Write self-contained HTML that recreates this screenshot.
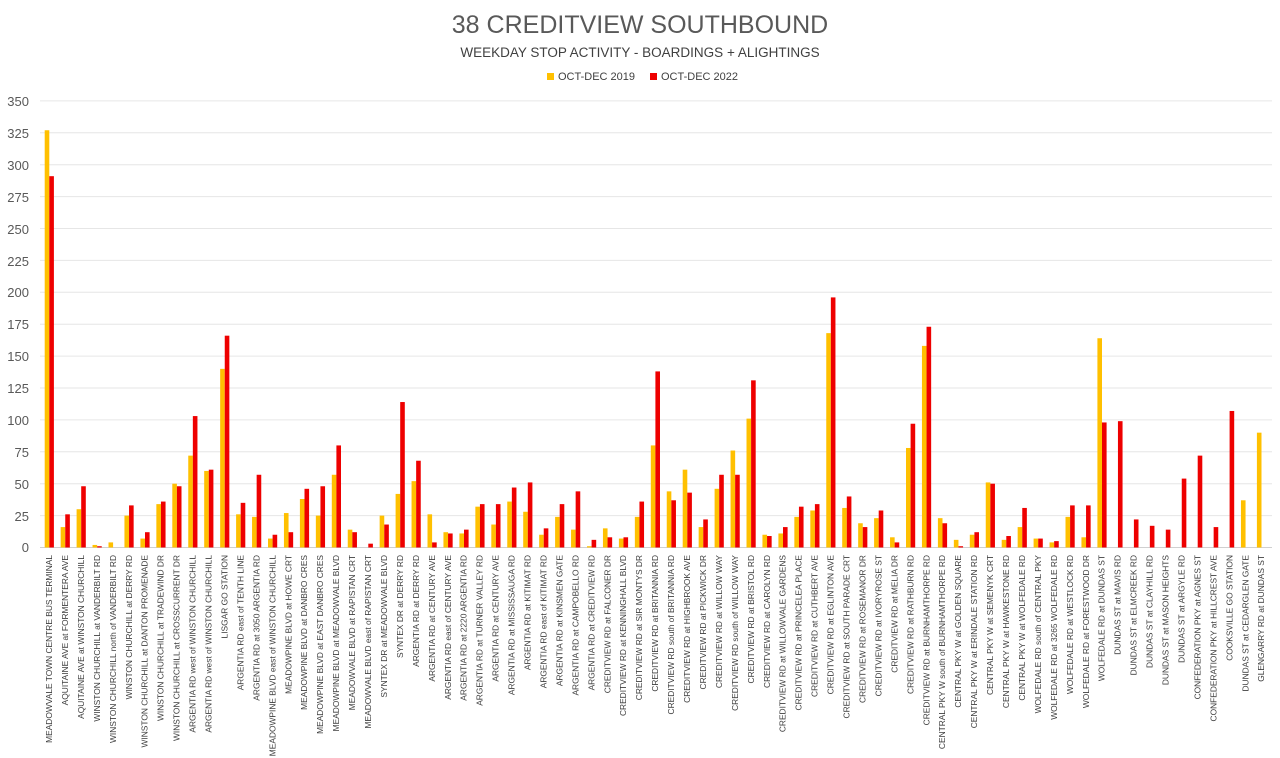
<!DOCTYPE html>
<html><head><meta charset="utf-8"><style>
body{margin:0;background:#fff;}
svg{display:block;font-family:"Liberation Sans",sans-serif;}
.lb text{font-size:8.4px;fill:#404040;}
</style></head><body>
<svg id="s" width="1280" height="758" viewBox="0 0 1280 758">
<rect width="1280" height="758" fill="#fff"/>
<text x="640" y="33" text-anchor="middle" font-size="25" fill="#595959">38 CREDITVIEW SOUTHBOUND</text>
<text x="640" y="57" text-anchor="middle" font-size="13.5" fill="#404040">WEEKDAY STOP ACTIVITY - BOARDINGS + ALIGHTINGS</text>
<rect x="547" y="73" width="7" height="7" fill="#FFC000"/>
<text x="558" y="80" font-size="11" fill="#404040">OCT-DEC 2019</text>
<rect x="650" y="73" width="7" height="7" fill="#EE0000"/>
<text x="661" y="80" font-size="11" fill="#404040">OCT-DEC 2022</text>
<g id="grid"></g>
<g font-size="13" fill="#595959" text-anchor="end">
<text x="29" y="106">350</text><text x="29" y="138">325</text><text x="29" y="170">300</text><text x="29" y="202">275</text><text x="29" y="234">250</text><text x="29" y="266">225</text><text x="29" y="297">200</text><text x="29" y="329">175</text><text x="29" y="361">150</text><text x="29" y="393">125</text><text x="29" y="425">100</text><text x="29" y="457">75</text><text x="29" y="489">50</text><text x="29" y="521">25</text><text x="29" y="552">0</text>
</g>
<g id="bars"></g>
<g class="lb" text-anchor="end">
<text transform="translate(52 555) rotate(-90)">MEADOWVALE TOWN CENTRE BUS TERMINAL</text>
<text transform="translate(67.95 555) rotate(-90)">AQUITAINE AVE at FORMENTERA AVE</text>
<text transform="translate(83.9 555) rotate(-90)">AQUITAINE AVE at WINSTON CHURCHILL</text>
<text transform="translate(99.85 555) rotate(-90)">WINSTON CHURCHILL at VANDERBILT RD</text>
<text transform="translate(115.8 555) rotate(-90)">WINSTON CHURCHILL north of VANDERBILT RD</text>
<text transform="translate(131.75 555) rotate(-90)">WINSTON CHURCHILL at DERRY RD</text>
<text transform="translate(147.7 555) rotate(-90)">WINSTON CHURCHILL at DANTON PROMENADE</text>
<text transform="translate(163.65 555) rotate(-90)">WINSTON CHURCHILL at TRADEWIND DR</text>
<text transform="translate(179.6 555) rotate(-90)">WINSTON CHURCHILL at CROSSCURRENT DR</text>
<text transform="translate(195.55 555) rotate(-90)">ARGENTIA RD west of WINSTON CHURCHILL</text>
<text transform="translate(211.5 555) rotate(-90)">ARGENTIA RD west of WINSTON CHURCHILL</text>
<text transform="translate(227.45 555) rotate(-90)">LISGAR GO STATION</text>
<text transform="translate(243.4 555) rotate(-90)">ARGENTIA RD east of TENTH LINE</text>
<text transform="translate(259.35 555) rotate(-90)">ARGENTIA RD at 3050 ARGENTIA RD</text>
<text transform="translate(275.3 555) rotate(-90)">MEADOWPINE BLVD east of WINSTON CHURCHILL</text>
<text transform="translate(291.25 555) rotate(-90)">MEADOWPINE BLVD at HOWE CRT</text>
<text transform="translate(307.2 555) rotate(-90)">MEADOWPINE BLVD at DANBRO CRES</text>
<text transform="translate(323.15 555) rotate(-90)">MEADOWPINE BLVD at EAST DANBRO CRES</text>
<text transform="translate(339.1 555) rotate(-90)">MEADOWPINE BLVD at MEADOWVALE BLVD</text>
<text transform="translate(355.05 555) rotate(-90)">MEADOWVALE BLVD at RAPISTAN CRT</text>
<text transform="translate(371 555) rotate(-90)">MEADOWVALE BLVD east of RAPISTAN CRT</text>
<text transform="translate(386.95 555) rotate(-90)">SYNTEX DR at MEADOWVALE BLVD</text>
<text transform="translate(402.9 555) rotate(-90)">SYNTEX DR at DERRY RD</text>
<text transform="translate(418.85 555) rotate(-90)">ARGENTIA RD at DERRY RD</text>
<text transform="translate(434.8 555) rotate(-90)">ARGENTIA RD at CENTURY AVE</text>
<text transform="translate(450.75 555) rotate(-90)">ARGENTIA RD east of CENTURY AVE</text>
<text transform="translate(466.7 555) rotate(-90)">ARGENTIA RD at 2220 ARGENTIA RD</text>
<text transform="translate(482.65 555) rotate(-90)">ARGENTIA RD at TURNER VALLEY RD</text>
<text transform="translate(498.6 555) rotate(-90)">ARGENTIA RD at CENTURY AVE</text>
<text transform="translate(514.55 555) rotate(-90)">ARGENTIA RD at MISSISSAUGA RD</text>
<text transform="translate(530.5 555) rotate(-90)">ARGENTIA RD at KITIMAT RD</text>
<text transform="translate(546.45 555) rotate(-90)">ARGENTIA RD east of KITIMAT RD</text>
<text transform="translate(562.4 555) rotate(-90)">ARGENTIA RD at KINSMEN GATE</text>
<text transform="translate(578.35 555) rotate(-90)">ARGENTIA RD at CAMPOBELLO RD</text>
<text transform="translate(594.3 555) rotate(-90)">ARGENTIA RD at CREDITVIEW RD</text>
<text transform="translate(610.25 555) rotate(-90)">CREDITVIEW RD at FALCONER DR</text>
<text transform="translate(626.2 555) rotate(-90)">CREDITVIEW RD at KENNINGHALL BLVD</text>
<text transform="translate(642.15 555) rotate(-90)">CREDITVIEW RD at SIR MONTYS DR</text>
<text transform="translate(658.1 555) rotate(-90)">CREDITVIEW RD at BRITANNIA RD</text>
<text transform="translate(674.05 555) rotate(-90)">CREDITVIEW RD south of BRITANNIA RD</text>
<text transform="translate(690 555) rotate(-90)">CREDITVIEW RD at HIGHBROOK AVE</text>
<text transform="translate(705.95 555) rotate(-90)">CREDITVIEW RD at PICKWICK DR</text>
<text transform="translate(721.9 555) rotate(-90)">CREDITVIEW RD at WILLOW WAY</text>
<text transform="translate(737.85 555) rotate(-90)">CREDITVIEW RD south of WILLOW WAY</text>
<text transform="translate(753.8 555) rotate(-90)">CREDITVIEW RD at BRISTOL RD</text>
<text transform="translate(769.75 555) rotate(-90)">CREDITVIEW RD at CAROLYN RD</text>
<text transform="translate(785.7 555) rotate(-90)">CREDITVIEW RD at WILLOWVALE GARDENS</text>
<text transform="translate(801.65 555) rotate(-90)">CREDITVIEW RD at PRINCELEA PLACE</text>
<text transform="translate(817.6 555) rotate(-90)">CREDITVIEW RD at CUTHBERT AVE</text>
<text transform="translate(833.55 555) rotate(-90)">CREDITVIEW RD at EGLINTON AVE</text>
<text transform="translate(849.5 555) rotate(-90)">CREDITVIEW RD at SOUTH PARADE CRT</text>
<text transform="translate(865.45 555) rotate(-90)">CREDITVIEW RD at ROSEMANOR DR</text>
<text transform="translate(881.4 555) rotate(-90)">CREDITVIEW RD at IVORYROSE ST</text>
<text transform="translate(897.35 555) rotate(-90)">CREDITVIEW RD at MELIA DR</text>
<text transform="translate(913.3 555) rotate(-90)">CREDITVIEW RD at RATHBURN RD</text>
<text transform="translate(929.25 555) rotate(-90)">CREDITVIEW RD at BURNHAMTHORPE RD</text>
<text transform="translate(945.2 555) rotate(-90)">CENTRAL PKY W south of BURNHAMTHORPE RD</text>
<text transform="translate(961.15 555) rotate(-90)">CENTRAL PKY W at GOLDEN SQUARE</text>
<text transform="translate(977.1 555) rotate(-90)">CENTRAL PKY W at ERINDALE STATION RD</text>
<text transform="translate(993.05 555) rotate(-90)">CENTRAL PKY W at SEMENYK CRT</text>
<text transform="translate(1009 555) rotate(-90)">CENTRAL PKY W at HAWKESTONE RD</text>
<text transform="translate(1024.95 555) rotate(-90)">CENTRAL PKY W at WOLFEDALE RD</text>
<text transform="translate(1040.9 555) rotate(-90)">WOLFEDALE RD south of CENTRAL PKY</text>
<text transform="translate(1056.85 555) rotate(-90)">WOLFEDALE RD at 3265 WOLFEDALE RD</text>
<text transform="translate(1072.8 555) rotate(-90)">WOLFEDALE RD at WESTLOCK RD</text>
<text transform="translate(1088.75 555) rotate(-90)">WOLFEDALE RD at FORESTWOOD DR</text>
<text transform="translate(1104.7 555) rotate(-90)">WOLFEDALE RD at DUNDAS ST</text>
<text transform="translate(1120.65 555) rotate(-90)">DUNDAS ST at MAVIS RD</text>
<text transform="translate(1136.6 555) rotate(-90)">DUNDAS ST at ELMCREEK RD</text>
<text transform="translate(1152.55 555) rotate(-90)">DUNDAS ST at CLAYHILL RD</text>
<text transform="translate(1168.5 555) rotate(-90)">DUNDAS ST at MASON HEIGHTS</text>
<text transform="translate(1184.45 555) rotate(-90)">DUNDAS ST at ARGYLE RD</text>
<text transform="translate(1200.4 555) rotate(-90)">CONFEDERATION PKY at AGNES ST</text>
<text transform="translate(1216.35 555) rotate(-90)">CONFEDERATION PKY at HILLCREST AVE</text>
<text transform="translate(1232.3 555) rotate(-90)">COOKSVILLE GO STATION</text>
<text transform="translate(1248.25 555) rotate(-90)">DUNDAS ST at CEDARGLEN GATE</text>
<text transform="translate(1264.2 555) rotate(-90)">GLENGARRY RD at DUNDAS ST</text>
</g>
</svg>
<script>
var y0=547.5,k=1.276,NS="http://www.w3.org/2000/svg";
var g=document.getElementById("grid");
for(var v=0;v<=350;v+=25){var l=document.createElementNS(NS,"line");var y=y0-v*k;
l.setAttribute("x1",40);l.setAttribute("x2",1272);l.setAttribute("y1",y);l.setAttribute("y2",y);
l.setAttribute("stroke",v==0?"#d0d0d0":"#e6e6e6");l.setAttribute("stroke-width",1);g.appendChild(l);}
var a=[327,16,30,2,4,25,7,34,50,72,60,140,26,24,7,27,38,25,57,14,0,25,42,52,26,12,11,32,18,36,28,10,24,14,1,15,7,24,80,44,61,16,46,76,101,10,11,24,29,168,31,19,23,8,78,158,23,6,10,51,6,16,7,4,24,8,164,0,0,0,0,0,0,0,0,37,90];
var b=[291,26,48,1,0,33,12,36,48,103,61,166,35,57,10,12,46,48,80,12,3,18,114,68,4,11,14,34,34,47,51,15,34,44,6,8,8,36,138,37,43,22,57,57,131,9,16,32,34,196,40,16,29,4,97,173,19,1,12,50,9,31,7,5,33,33,98,99,22,17,14,54,72,16,107,0,0];
var bg=document.getElementById("bars");
function r(x,v,c){if(!v)return;var e=document.createElementNS(NS,"rect");e.setAttribute("x",x);e.setAttribute("width",4.6);
e.setAttribute("y",y0-v*k);e.setAttribute("height",v*k);e.setAttribute("fill",c);bg.appendChild(e);}
for(var i=0;i<77;i++){var c=49.3+15.95*i;r(c-4.6,a[i],"#FFC000");r(c,b[i],"#EE0000");}
</script>
</body></html>
